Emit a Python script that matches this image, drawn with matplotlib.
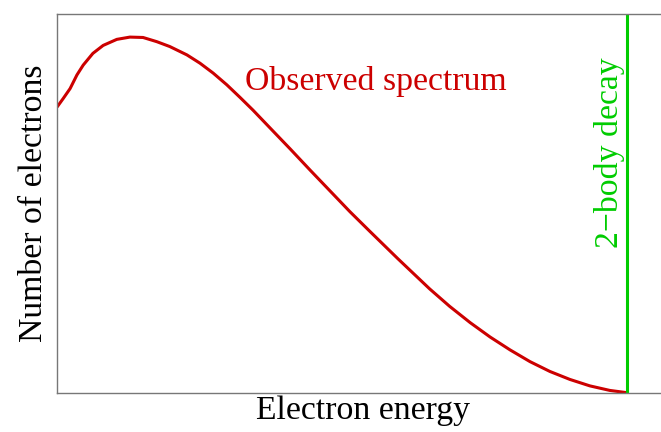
import numpy as np
import matplotlib
matplotlib.use('Agg')
import matplotlib.pyplot as plt

plt.rcParams['font.family'] = ['Liberation Serif', 'DejaVu Serif']

# Beta spectrum sketch: energy in units of the 2-body endpoint, counts normalised to the frame height
energy = [0.000, 0.011, 0.023, 0.035, 0.046, 0.063, 0.081, 0.105, 0.128, 0.151,
          0.175, 0.198, 0.228, 0.251, 0.274, 0.298, 0.321, 0.344, 0.379, 0.409,
          0.444, 0.479, 0.514, 0.549, 0.598, 0.619, 0.654, 0.689, 0.725, 0.760,
          0.795, 0.830, 0.865, 0.900, 0.935, 0.970, 1.000]
counts = [0.754, 0.777, 0.803, 0.839, 0.865, 0.896, 0.917, 0.933, 0.939, 0.938,
          0.927, 0.914, 0.892, 0.870, 0.844, 0.813, 0.780, 0.746, 0.691, 0.644,
          0.588, 0.533, 0.478, 0.426, 0.354, 0.324, 0.274, 0.228, 0.185, 0.147,
          0.113, 0.082, 0.056, 0.035, 0.018, 0.006, 0.000]
endpoint = 1.0

red = '#cc0000'
green = '#00cc00'

fig = plt.figure(figsize=(6.61, 4.32), dpi=100)
ax = fig.add_axes([0.0862, 0.091, 0.926, 0.8766])  # right edge runs past the figure

ax.plot(energy, counts, color=red, lw=2.2, solid_joinstyle='round', solid_capstyle='butt')
ax.axvline(endpoint, color=green, lw=2.2)

ax.text(0.330, 0.799, 'Observed spectrum', color=red, fontsize=24.3,
        ha='left', va='baseline')
ax.text(0.985, 0.382, '2\u2212body decay', color=green, fontsize=24.3,
        rotation=90, rotation_mode='anchor', ha='left', va='baseline')

ax.set_xlim(0, 1.074)
ax.set_ylim(0, 1)
ax.set_xticks([])
ax.set_yticks([])
for s in ax.spines.values():
    s.set_color('#777777')
    s.set_linewidth(1.0)

ax.set_xlabel('Electron energy', fontsize=24.3, labelpad=2)
ax.set_ylabel('Number of electrons', fontsize=24.3, labelpad=6)

fig.savefig('out.png', dpi=100)
